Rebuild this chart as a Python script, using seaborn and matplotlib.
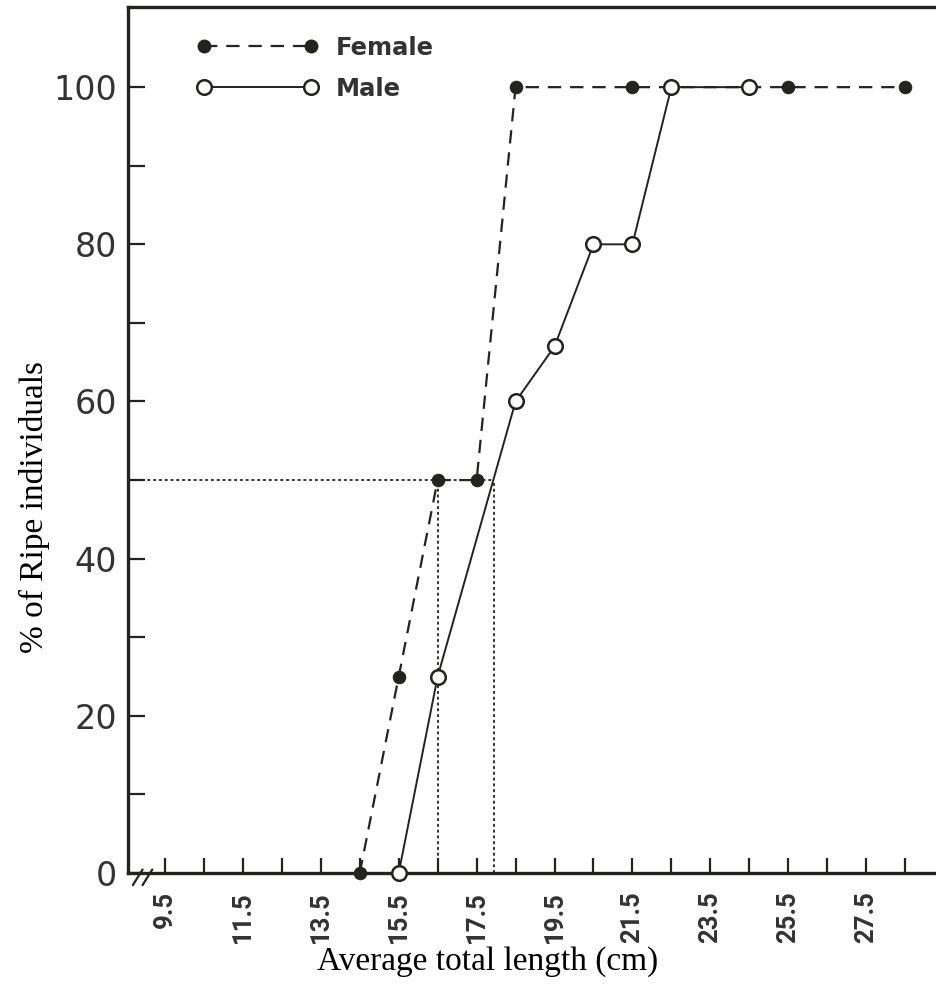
import matplotlib
matplotlib.use("Agg")
import matplotlib.pyplot as plt
import seaborn as sns
import pandas as pd
from matplotlib.lines import Line2D

# ---- data ----
female_x = [14.5, 15.5, 16.5, 17.5, 18.5, 21.5, 25.5, 28.5]
female_y = [0, 25, 50, 50, 100, 100, 100, 100]
male_x = [15.5, 16.5, 18.5, 19.5, 20.5, 21.5, 22.5, 24.5]
male_y = [0, 25, 60, 67, 80, 80, 100, 100]
l50_level = 50
l50_female = 16.5
l50_male = 17.95
x_ticks = [9.5, 10.5, 11.5, 12.5, 13.5, 14.5, 15.5, 16.5, 17.5, 18.5,
           19.5, 20.5, 21.5, 22.5, 23.5, 24.5, 25.5, 26.5, 27.5, 28.5]
x_tick_labels = ["9.5", "", "11.5", "", "13.5", "", "15.5", "", "17.5", "",
                 "19.5", "", "21.5", "", "23.5", "", "25.5", "", "27.5", ""]
y_major = [0, 20, 40, 60, 80, 100]
y_minor = [10, 30, 50, 70, 90]

sns.set_theme(style="white")
plt.rcParams["font.family"] = ["DejaVu Sans"]

ink = "#232320"
fig = plt.figure(figsize=(9.37, 10.02), dpi=100)
ax = fig.add_axes([128 / 937, 129 / 1002, 1 - 128 / 937, (873 - 7) / 1002])

df_f = pd.DataFrame({"x": female_x, "y": female_y})
df_m = pd.DataFrame({"x": male_x, "y": male_y})

# reference (L50) dotted lines
ax.hlines(l50_level, 8.0, l50_male, colors=ink, linestyles=(0, (1.6, 1.6)), lw=1.3, zorder=1)
ax.vlines([l50_female, l50_male], 0, l50_level, colors=ink, linestyles=(0, (1.6, 1.6)), lw=1.3, zorder=1)

sns.lineplot(data=df_f, x="x", y="y", ax=ax, sort=False, color=ink,
             linestyle=(0, (6, 4)), lw=1.6, marker="o", markersize=9,
             markerfacecolor=ink, markeredgecolor=ink, zorder=3, clip_on=False)
sns.lineplot(data=df_m, x="x", y="y", ax=ax, sort=False, color=ink,
             linestyle="-", lw=1.4, marker="o", markersize=10.5,
             markerfacecolor="white", markeredgecolor=ink, markeredgewidth=1.8,
             zorder=4, clip_on=False)

ax.set_xlim(8.55, 29.32)
ax.set_ylim(0, 110.2)

ax.set_xticks(x_ticks)
ax.set_xticklabels(x_tick_labels, rotation=90, fontsize=18.5, color="#333333",
                   fontweight="bold", family="Roboto")
ax.set_yticks(y_major)
ax.set_yticks(y_minor, minor=True)
ax.set_yticklabels([str(v) for v in y_major], fontsize=24, color="#333333")
ax.tick_params(axis="x", which="both", direction="in", length=11, width=1.6,
               color=ink, pad=13, bottom=True)
ax.tick_params(axis="y", which="both", direction="in", length=12, width=1.6,
               color=ink, pad=8, left=True)

for side in ["left", "bottom", "top"]:
    ax.spines[side].set_color(ink)
    ax.spines[side].set_linewidth(2.4)
ax.spines["right"].set_visible(False)

ax.set_xlabel("Average total length (cm)", family="Liberation Serif",
              fontsize=24, color="black")
ax.xaxis.set_label_coords(0.444, -0.1025)
ax.xaxis.label.set_va("center")
ax.set_ylabel("% of Ripe individuals", family="Liberation Serif",
              fontsize=24, color="black")
ax.yaxis.set_label_coords(-0.115, 0.4226)
ax.yaxis.label.set_va("center")

# axis-break mark
for dx in (0.0, 0.012):
    ax.plot([0.006 + dx, 0.018 + dx], [-0.014, 0.004], transform=ax.transAxes,
            color=ink, lw=1.6, clip_on=False)

handles = [
    Line2D([], [], color=ink, linestyle=(0, (6, 4)), lw=1.6, marker="o",
           markersize=9, markerfacecolor=ink, markeredgecolor=ink),
    Line2D([], [], color=ink, linestyle="-", lw=1.4, marker="o", markersize=10.5,
           markerfacecolor="white", markeredgecolor=ink, markeredgewidth=1.8),
]
leg = ax.legend(handles, ["Female", "Male"], loc="upper left",
                bbox_to_anchor=(0.058, 0.992), frameon=False, numpoints=2,
                handlelength=5.0, handletextpad=0.7, labelspacing=0.7,
                prop={"size": 17.5, "weight": "bold"})
for t in leg.get_texts():
    t.set_color("#333333")

fig.savefig("out.png", dpi=100)
